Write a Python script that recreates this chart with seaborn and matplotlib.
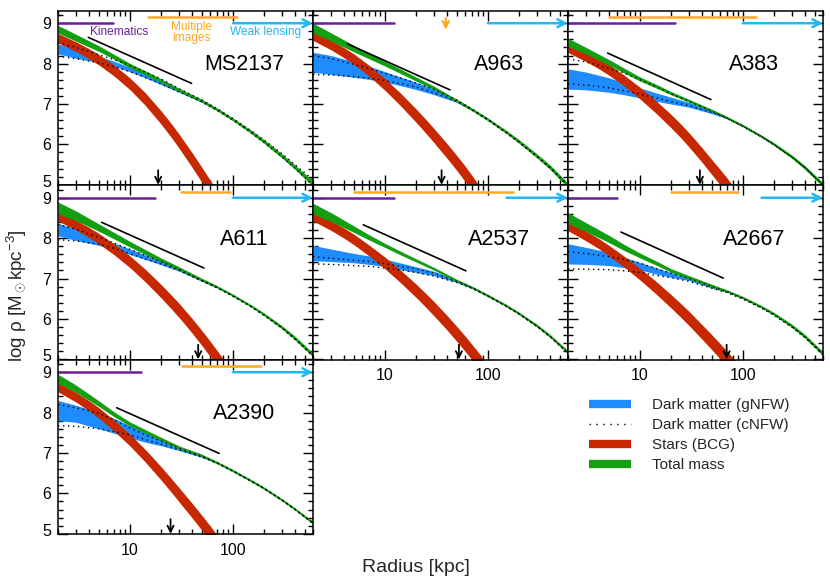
import numpy as np
import pandas as pd
import matplotlib
matplotlib.use("Agg")
import matplotlib.pyplot as plt
import matplotlib.transforms as mtransforms
from matplotlib.lines import Line2D
from matplotlib.ticker import FixedLocator, LogLocator, NullFormatter, MultipleLocator, FixedFormatter
import seaborn as sns

# ---------------- data ----------------
clusters = ["MS2137", "A963", "A383", "A611", "A2537", "A2667", "A2390"]
radius_grid = [2, 3, 5, 7, 10, 15, 20, 30, 50, 70, 100, 150, 200, 300, 400, 600]
radius_dm = [2, 3, 5, 7, 10, 15, 20, 30, 50, 70]
radius_stars = [2, 3, 4, 5, 7, 10, 14, 20, 25, 30, 40, 50, 60, 70, 85, 100]

total_mid = {
    "MS2137": [8.85, 8.64, 8.37, 8.17, 7.95, 7.74, 7.58, 7.35, 7.08, 6.868, 6.62, 6.312, 6.075, 5.714, 5.439, 5.025],
    "A963":   [8.88, 8.66, 8.37, 8.19, 8.00, 7.78, 7.62, 7.40, 7.08, 6.868, 6.62, 6.312, 6.075, 5.714, 5.44, 4.98],
    "A383":   [8.53, 8.32, 8.03, 7.83, 7.62, 7.42, 7.27, 7.08, 6.84, 6.665, 6.464, 6.209, 6.009, 5.692, 5.43, 5.00],
    "A611":   [8.75, 8.55, 8.26, 8.06, 7.85, 7.62, 7.46, 7.25, 6.97, 6.795, 6.586, 6.322, 6.116, 5.79, 5.528, 5.106],
    "A2537":  [8.73, 8.52, 8.22, 8.02, 7.82, 7.60, 7.45, 7.24, 6.95, 6.782, 6.58, 6.334, 6.14, 5.832, 5.582, 5.177],
    "A2667":  [8.50, 8.27, 7.98, 7.77, 7.57, 7.36, 7.20, 7.03, 6.82, 6.69, 6.527, 6.307, 6.126, 5.827, 5.57, 5.14],
    "A2390":  [8.84, 8.59, 8.22, 7.96, 7.72, 7.50, 7.35, 7.14, 6.94, 6.765, 6.563, 6.317, 6.13, 5.84, 5.615, 5.272],
}
total_halfwidth = {
    "MS2137": [0.095, 0.085, 0.07, 0.06, 0.055, 0.05, 0.045, 0.04, 0.035, 0.035, 0.035, 0.04, 0.045, 0.05, 0.055, 0.065],
    "A963":   [0.12, 0.10, 0.08, 0.07, 0.06, 0.055, 0.05, 0.04, 0.035, 0.035, 0.035, 0.04, 0.045, 0.05, 0.055, 0.06],
    "A383":   [0.10, 0.08, 0.07, 0.06, 0.05, 0.045, 0.04, 0.035, 0.03, 0.03, 0.03, 0.03, 0.035, 0.04, 0.045, 0.05],
    "A611":   [0.145, 0.12, 0.09, 0.08, 0.07, 0.06, 0.05, 0.04, 0.035, 0.03, 0.03, 0.03, 0.035, 0.04, 0.045, 0.05],
    "A2537":  [0.13, 0.11, 0.08, 0.065, 0.05, 0.045, 0.04, 0.035, 0.03, 0.03, 0.03, 0.03, 0.03, 0.035, 0.035, 0.04],
    "A2667":  [0.13, 0.11, 0.09, 0.075, 0.06, 0.05, 0.045, 0.04, 0.035, 0.03, 0.03, 0.03, 0.035, 0.04, 0.045, 0.05],
    "A2390":  [0.11, 0.09, 0.07, 0.06, 0.05, 0.045, 0.04, 0.035, 0.03, 0.03, 0.03, 0.03, 0.03, 0.03, 0.03, 0.035],
}
dm_gnfw_low = {
    "MS2137": [8.24, 8.13, 8.03, 7.93, 7.80, 7.62, 7.48, 7.29, 7.04, 6.84],
    "A963":   [7.79, 7.73, 7.66, 7.61, 7.54, 7.44, 7.36, 7.23, 7.04, 6.84],
    "A383":   [7.37, 7.35, 7.29, 7.23, 7.15, 7.06, 7.00, 6.92, 6.76, 6.64],
    "A611":   [8.06, 7.94, 7.82, 7.72, 7.59, 7.45, 7.34, 7.18, 6.93, 6.77],
    "A2537":  [7.44, 7.42, 7.39, 7.35, 7.30, 7.21, 7.15, 7.07, 6.90, 6.75],
    "A2667":  [7.36, 7.35, 7.32, 7.27, 7.21, 7.10, 7.03, 6.95, 6.76, 6.66],
    "A2390":  [7.80, 7.76, 7.60, 7.49, 7.37, 7.25, 7.18, 7.06, 6.89, 6.74],
}
dm_gnfw_high = {
    "MS2137": [8.49, 8.37, 8.18, 8.06, 7.91, 7.72, 7.58, 7.37, 7.10, 6.88],
    "A963":   [8.28, 8.20, 8.05, 7.94, 7.80, 7.65, 7.54, 7.37, 7.11, 6.88],
    "A383":   [7.87, 7.79, 7.65, 7.53, 7.40, 7.26, 7.17, 7.04, 6.84, 6.68],
    "A611":   [8.37, 8.23, 8.01, 7.88, 7.73, 7.56, 7.43, 7.24, 6.97, 6.81],
    "A2537":  [7.82, 7.73, 7.62, 7.56, 7.48, 7.37, 7.29, 7.18, 6.96, 6.79],
    "A2667":  [7.86, 7.77, 7.65, 7.53, 7.40, 7.25, 7.15, 7.01, 6.80, 6.70],
    "A2390":  [8.30, 8.18, 8.01, 7.86, 7.68, 7.48, 7.35, 7.16, 6.96, 6.78],
}
dm_cnfw_upper = {
    "MS2137": [8.51, 8.40, 8.22, 8.10, 7.95, 7.76, 7.62, 7.38, 7.10, 6.89, 6.64, 6.34, 6.11, 5.77, 5.50, 5.12],
    "A963":   [8.20, 8.12, 7.98, 7.88, 7.76, 7.62, 7.52, 7.36, 7.10, 6.88, 6.62, 6.31, 6.07, 5.71, 5.44, 5.00],
    "A383":   [8.12, 8.04, 7.88, 7.77, 7.60, 7.40, 7.25, 7.06, 6.82, 6.65, 6.45, 6.20, 6.00, 5.69, 5.43, 5.00],
    "A611":   [8.34, 8.22, 8.02, 7.88, 7.72, 7.54, 7.42, 7.23, 6.95, 6.78, 6.57, 6.31, 6.10, 5.78, 5.51, 5.09],
    "A2537":  [7.54, 7.50, 7.45, 7.42, 7.37, 7.29, 7.24, 7.13, 6.93, 6.77, 6.57, 6.32, 6.13, 5.82, 5.57, 5.16],
    "A2667":  [7.67, 7.62, 7.54, 7.47, 7.38, 7.23, 7.13, 7.00, 6.80, 6.68, 6.51, 6.29, 6.11, 5.81, 5.56, 5.13],
    "A2390":  [8.20, 8.12, 7.98, 7.82, 7.62, 7.42, 7.30, 7.12, 6.92, 6.76, 6.56, 6.31, 6.13, 5.84, 5.61, 5.27],
}
dm_cnfw_lower = {
    "MS2137": [8.18, 8.12, 8.02, 7.92, 7.80, 7.63, 7.50, 7.30, 7.05, 6.84, 6.60, 6.29, 6.05, 5.69, 5.41, 4.99],
    "A963":   [7.73, 7.72, 7.68, 7.64, 7.58, 7.49, 7.42, 7.28, 7.06, 6.85, 6.60, 6.29, 6.05, 5.69, 5.42, 4.97],
    "A383":   [7.50, 7.47, 7.40, 7.33, 7.25, 7.14, 7.06, 6.96, 6.79, 6.64, 6.44, 6.19, 5.99, 5.68, 5.42, 4.99],
    "A611":   [7.96, 7.93, 7.85, 7.75, 7.62, 7.46, 7.36, 7.20, 6.94, 6.77, 6.56, 6.30, 6.09, 5.77, 5.50, 5.08],
    "A2537":  [7.36, 7.35, 7.32, 7.30, 7.26, 7.20, 7.15, 7.06, 6.90, 6.76, 6.56, 6.31, 6.12, 5.81, 5.56, 5.15],
    "A2667":  [7.24, 7.23, 7.22, 7.19, 7.15, 7.07, 7.02, 6.93, 6.76, 6.65, 6.49, 6.27, 6.09, 5.79, 5.54, 5.11],
    "A2390":  [7.68, 7.66, 7.60, 7.53, 7.45, 7.31, 7.22, 7.08, 6.90, 6.75, 6.55, 6.30, 6.12, 5.83, 5.60, 5.26],
}
stars_mid = {
    "MS2137": [8.63, 8.42, 8.245, 8.095, 7.83, 7.50, 7.13, 6.67, 6.355, 6.08, 5.62, 5.245, 4.93, 4.66, 4.32, 4.04],
    "A963":   [8.69, 8.46, 8.27, 8.11, 7.825, 7.485, 7.127, 6.716, 6.445, 6.216, 5.84, 5.536, 5.275, 5.044, 4.74, 4.48],
    "A383":   [8.39, 8.17, 7.995, 7.845, 7.582, 7.27, 6.95, 6.58, 6.33, 6.11, 5.74, 5.435, 5.19, 4.98, 4.70, 4.45],
    "A611":   [8.54, 8.32, 8.14, 7.985, 7.725, 7.415, 7.08, 6.69, 6.43, 6.21, 5.835, 5.525, 5.26, 5.03, 4.74, 4.49],
    "A2537":  [8.54, 8.31, 8.125, 7.965, 7.695, 7.385, 7.064, 6.70, 6.456, 6.25, 5.907, 5.626, 5.388, 5.18, 4.91, 4.66],
    "A2667":  [8.30, 8.05, 7.86, 7.69, 7.42, 7.11, 6.796, 6.44, 6.207, 6.01, 5.68, 5.42, 5.20, 5.01, 4.77, 4.55],
    "A2390":  [8.63, 8.38, 8.17, 7.99, 7.68, 7.32, 6.94, 6.50, 6.21, 5.965, 5.58, 5.27, 5.01, 4.78, 4.48, 4.22],
}
stars_halfwidth = [0.115, 0.12, 0.125, 0.13, 0.135, 0.145, 0.155, 0.165, 0.17, 0.175,
                   0.18, 0.185, 0.19, 0.19, 0.19, 0.19]

slope_r = {"MS2137": [3.94, 39.7], "A963": [4.31, 42.8], "A383": [4.86, 48.9],
           "A611": [5.31, 52.3], "A2537": [6.16, 61.1], "A2667": [6.54, 64.4],
           "A2390": [7.43, 73.6]}
slope_v = {"MS2137": [8.65, 7.51], "A963": [8.49, 7.35], "A383": [8.26, 7.11],
           "A611": [8.39, 7.26], "A2537": [8.33, 7.19], "A2667": [8.15, 7.01],
           "A2390": [8.12, 6.99]}
arrow_r = {"MS2137": 18.8, "A963": 35.5, "A383": 38.2, "A611": 46.0,
           "A2537": 52.3, "A2667": 69.5, "A2390": 24.8}
kinematics_r = {"MS2137": [2, 6.9], "A963": [2, 12.2], "A383": [2, 21.9], "A611": [2, 17.5],
                "A2537": [2, 12.2], "A2667": [2, 5.96], "A2390": [2, 12.7]}
multiple_images_r = {"MS2137": [15.1, 108.8], "A963": None, "A383": [5.0, 133],
                     "A611": [31.1, 93.6], "A2537": [5.03, 176], "A2667": [20, 88.7],
                     "A2390": [31.7, 185.9]}
multiple_images_point = {"A963": 39.0}
weak_lensing_r = {"MS2137": [100.7, 600], "A963": [100, 600], "A383": [100, 600],
                  "A611": [100, 600], "A2537": [151.9, 600], "A2667": [151.9, 600],
                  "A2390": [100, 600]}
legend_labels = ["Dark matter (gNFW)", "Dark matter (cNFW)", "Stars (BCG)", "Total mass"]

# ---------------- style ----------------
sns.set_style("ticks")
plt.rcParams["font.family"] = ["Liberation Sans", "DejaVu Sans"]
plt.rcParams["mathtext.fontset"] = "custom"
plt.rcParams["mathtext.rm"] = "Liberation Sans"
plt.rcParams["mathtext.it"] = "Liberation Sans:italic"

C_BLUE = "#1E8CFF"
C_RED = "#C82800"
C_GREEN = "#12A012"
C_PURPLE = "#6A1E9C"
C_ORANGE = "#FFA820"
C_CYAN = "#22B8F0"

W, H = 830, 581
fig = plt.figure(figsize=(W / 100, H / 100), dpi=100)

col_left = [58, 313, 568]
row_top = [10.7, 185.2, 359.7]
pw, ph = 255, 174.5
layout = [(0, 0), (0, 1), (0, 2), (1, 0), (1, 1), (1, 2), (2, 0)]
xlabel_panels = {"A2537", "A2667", "A2390"}

XLIM = (2, 600)
YLIM = (4.99, 9.31)

for name, (r, c) in zip(clusters, layout):
    ax = fig.add_axes([col_left[c] / W, 1 - (row_top[r] + ph) / H, pw / W, ph / H])
    ax.set_xscale("log")

    rg = np.array(radius_grid, float)
    rd = np.array(radius_dm, float)
    rs = np.array(radius_stars, float)
    # dark matter gNFW band
    ax.fill_between(rd, dm_gnfw_low[name], dm_gnfw_high[name], color=C_BLUE, lw=0, zorder=1)
    # stars band
    sm = np.array(stars_mid[name]); sh = np.array(stars_halfwidth)
    ax.fill_between(rs, sm - sh, sm + sh, color=C_RED, lw=0, zorder=2)
    # total band
    tm = np.array(total_mid[name]); th = np.array(total_halfwidth[name])
    ax.fill_between(rg, tm - th, tm + th, color=C_GREEN, lw=0, zorder=3)
    # cNFW dotted lines
    for arr in (dm_cnfw_upper[name], dm_cnfw_lower[name]):
        sns.lineplot(x=rg, y=arr, ax=ax, color="black", lw=1.0,
                     linestyle=(0, (1, 2.6)), zorder=4, legend=False)
    # reference slope line
    sns.lineplot(x=slope_r[name], y=slope_v[name], ax=ax, color="black", lw=1.2,
                 zorder=5, legend=False)
    # black arrow at bottom
    ax.annotate("", xy=(arrow_r[name], YLIM[0] + 0.01), xytext=(arrow_r[name], 5.36),
                arrowprops=dict(arrowstyle="->", color="black", lw=1.3,
                                mutation_scale=11, shrinkA=0, shrinkB=0), zorder=6)
    # data-range bars
    sns.lineplot(x=kinematics_r[name], y=[9.0, 9.0], ax=ax, color=C_PURPLE, lw=1.8,
                 legend=False, zorder=6)
    if multiple_images_r[name] is not None:
        sns.lineplot(x=multiple_images_r[name], y=[9.15, 9.15], ax=ax, color=C_ORANGE,
                     lw=1.8, legend=False, zorder=6)
    else:
        rp = multiple_images_point[name]
        ax.annotate("", xy=(rp, 8.84), xytext=(rp, 9.13),
                    arrowprops=dict(arrowstyle="->", color=C_ORANGE, lw=1.6,
                                    mutation_scale=11, shrinkA=0, shrinkB=0), zorder=6)
    wl = weak_lensing_r[name]
    ax.annotate("", xy=(wl[1], 9.0), xytext=(wl[0], 9.0),
                arrowprops=dict(arrowstyle="->", color=C_CYAN, lw=1.8,
                                mutation_scale=14, shrinkA=0, shrinkB=0),
                zorder=6, annotation_clip=False)

    ax.text(0.73, 0.69, name, transform=ax.transAxes, ha="center", va="center",
            fontsize=15.5, color="black", zorder=7)

    if name == "MS2137":
        ax.text(7.9, 8.79, "Kinematics", color=C_PURPLE, fontsize=8.6, ha="center", va="center")
        ax.text(39.7, 8.775, "Multiple\nimages", color=C_ORANGE, fontsize=8.6, ha="center",
                va="center", linespacing=0.82, multialignment="center")
        ax.text(209.0, 8.78, "Weak lensing", color=C_CYAN, fontsize=8.6, ha="center", va="center")

    ax.set_xlim(*XLIM)
    ax.set_ylim(*YLIM)
    ax.xaxis.set_major_locator(FixedLocator([10, 100]))
    ax.xaxis.set_minor_locator(LogLocator(base=10, subs=np.arange(2, 10)))
    ax.xaxis.set_minor_formatter(NullFormatter())
    ax.yaxis.set_major_locator(FixedLocator([5, 6, 7, 8, 9]))
    ax.yaxis.set_minor_locator(MultipleLocator(0.2))
    ax.tick_params(which="both", direction="in", top=True, right=True, width=1.0,
                   labelsize=11.5, colors="black")
    ax.tick_params(which="major", length=7)
    ax.tick_params(which="minor", length=3.5)
    if name in xlabel_panels:
        ax.xaxis.set_major_formatter(FixedFormatter(["10", "100"]))
        ax.tick_params(axis="x", pad=6)
    else:
        ax.xaxis.set_major_formatter(NullFormatter())
    if c == 0:
        ax.yaxis.set_major_formatter(FixedFormatter(["5", "6", "7", "8", "9"]))
        ax.tick_params(axis="y", pad=5)
        shift = mtransforms.ScaledTranslation(0, 4 / 100, fig.dpi_scale_trans)
        lbl = ax.get_yticklabels()[0]
        lbl.set_transform(lbl.get_transform() + shift)
    else:
        ax.yaxis.set_major_formatter(NullFormatter())
    ax.set_xlabel(""); ax.set_ylabel("")
    for sp in ax.spines.values():
        sp.set_linewidth(1.1)
        sp.set_color("black")
        sp.set_zorder(8)

fig.text(416 / W, 1 - 568 / H, "Radius [kpc]", ha="center", va="center", fontsize=14)
fig.text(16 / W, 1 - 296 / H, "log ρ [M$_\\odot$kpc$^{-3}$]", ha="center", va="center",
         rotation=90, fontsize=13.5)

handles = [Line2D([], [], color=C_BLUE, lw=6, solid_capstyle="butt"),
           Line2D([], [], color="black", lw=1.0, linestyle=(0, (1, 4))),
           Line2D([], [], color=C_RED, lw=6, solid_capstyle="butt"),
           Line2D([], [], color=C_GREEN, lw=6, solid_capstyle="butt")]
fig.legend(handles, legend_labels, loc="upper left", bbox_to_anchor=(589 / W, 1 - 398 / H),
           frameon=False, fontsize=11, handlelength=2.75, handletextpad=1.4,
           labelspacing=0.4, borderaxespad=0, borderpad=0)

fig.savefig("out.png", dpi=100)
